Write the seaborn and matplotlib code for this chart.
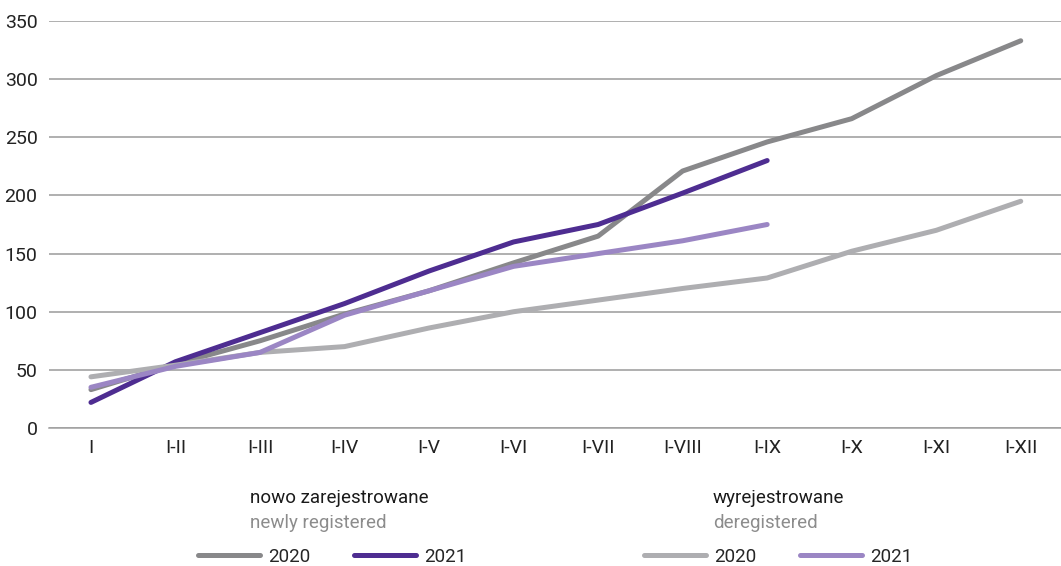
import matplotlib
matplotlib.use("Agg")
import matplotlib.pyplot as plt
import seaborn as sns
import pandas as pd
import numpy as np

# data
months = ["I", "I-II", "I-III", "I-IV", "I-V", "I-VI", "I-VII", "I-VIII",
          "I-IX", "I-X", "I-XI", "I-XII"]
new_2020 = [33, 55, 75, 98, 118, 142, 165, 221, 246, 266, 303, 333]
new_2021 = [22, 57, 82, 107, 135, 160, 175, 202, 230]
dereg_2020 = [44, 54, 65, 70, 86, 100, 110, 120, 129, 152, 170, 195]
dereg_2021 = [35, 53, 65, 97, 118, 139, 150, 161, 175]

series_names = ["new2020", "new2021", "dereg2020", "dereg2021"]
colors = {"new2020": "#88888a", "new2021": "#4e2d91",
          "dereg2020": "#aeaeb1", "dereg2021": "#9b86c4"}

frames = []
for name, vals in zip(series_names, [new_2020, new_2021, dereg_2020, dereg_2021]):
    frames.append(pd.DataFrame({"x": np.arange(len(vals)), "y": vals, "series": name}))
df = pd.concat(frames, ignore_index=True)

sns.set_style("white")
plt.rcParams['font.family'] = ['Roboto', 'DejaVu Sans']

W, H = 1061, 566
fig = plt.figure(figsize=(W / 100, H / 100), dpi=100)
left, right = 48.7, 1063
ax = fig.add_axes([left / W, (H - 428) / H, (right - left) / W, (428 - 21) / H])

sns.lineplot(data=df, x="x", y="y", hue="series", palette=colors,
             hue_order=series_names, linewidth=3.6, ax=ax, legend=False)
for ln in ax.lines:
    ln.set_solid_capstyle("round")
    ln.set_solid_joinstyle("round")

ax.set_xlim(-0.5, len(months) - 0.5)
ax.set_ylim(0, 350)
ax.set_yticks(np.arange(0, 351, 50))
ax.yaxis.grid(True, color="#9a9a9a", linewidth=1.1)
ax.set_axisbelow(True)
ax.set_xticks(np.arange(len(months)))
ax.set_xticklabels(months, fontsize=14, color="#222222")
ax.set_xticks(np.arange(-0.5, len(months), 1), minor=True)
ax.tick_params(axis="x", which="major", length=0, pad=8)
ax.tick_params(axis="x", which="minor", length=11, width=1.1, color="#a0a0a0")
ax.tick_params(axis="y", length=0, labelsize=14, labelcolor="#222222", pad=8)
for s in ["top", "right", "left"]:
    ax.spines[s].set_visible(False)
ax.spines["bottom"].set_color("#a0a0a0")
ax.spines["bottom"].set_linewidth(1.1)
ax.set_xlabel("")
ax.set_ylabel("")

# legend titles
fig.text(250 / W, 1 - 498 / H, "nowo zarejestrowane", fontsize=13.5, color="#1a1a1a",
         va="center", ha="left")
fig.text(250 / W, 1 - 523 / H, "newly registered", fontsize=13.5, color="#8c8c8c",
         va="center", ha="left")
fig.text(713 / W, 1 - 498 / H, "wyrejestrowane", fontsize=13.5, color="#1a1a1a",
         va="center", ha="left")
fig.text(713 / W, 1 - 523 / H, "deregistered", fontsize=13.5, color="#8c8c8c",
         va="center", ha="left")

hl = ax.lines
fig.legend([hl[0], hl[1]], ["2020", "2021"], loc="center left",
           bbox_to_anchor=(198 / W, 1 - 557 / H), ncol=2, frameon=False,
           fontsize=13.5, handlelength=3.3, handletextpad=0.45,
           columnspacing=2.3, borderpad=0, borderaxespad=0)
fig.legend([hl[2], hl[3]], ["2020", "2021"], loc="center left",
           bbox_to_anchor=(644 / W, 1 - 557 / H), ncol=2, frameon=False,
           fontsize=13.5, handlelength=3.3, handletextpad=0.45,
           columnspacing=2.3, borderpad=0, borderaxespad=0)

fig.savefig("out.png", dpi=100)
